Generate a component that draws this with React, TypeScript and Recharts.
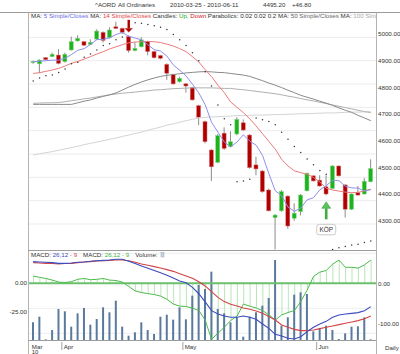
import React from "react";
import { ComposedChart, Bar, Line, XAxis, YAxis, CartesianGrid, ReferenceLine, ReferenceDot } from "recharts";

const FONT = '"Liberation Sans", Arial, sans-serif';

const dates = [
  "2010-03-25", "2010-03-26", "2010-03-29", "2010-03-30", "2010-03-31",
  "2010-04-01", "2010-04-06", "2010-04-07", "2010-04-08", "2010-04-09",
  "2010-04-12", "2010-04-13", "2010-04-14", "2010-04-15", "2010-04-16",
  "2010-04-19", "2010-04-20", "2010-04-21", "2010-04-22", "2010-04-23",
  "2010-04-27", "2010-04-28", "2010-04-29", "2010-04-30",
  "2010-05-03", "2010-05-04", "2010-05-05", "2010-05-06", "2010-05-07",
  "2010-05-10", "2010-05-11", "2010-05-12", "2010-05-13", "2010-05-14",
  "2010-05-17", "2010-05-18", "2010-05-19", "2010-05-20", "2010-05-21",
  "2010-05-24", "2010-05-25", "2010-05-26", "2010-05-27", "2010-05-28", "2010-05-31",
  "2010-06-01", "2010-06-02", "2010-06-03", "2010-06-04",
  "2010-06-07", "2010-06-08", "2010-06-09", "2010-06-10", "2010-06-11",
];

const opens = [4893, 4888, 4911, 4915, 4921, 4896, 4940, 4974, 4971, 4961, 4981, 5006, 4986, 5027, 5021, 4990, 4938, 4952, 4971, 4934, 4919, 4886, 4849, 4821, 4813, 4799, 4731, 4671, 4565, 4519, 4628, 4578, 4625, 4667, 4621, 4509, 4486, 4415, 4311, 4337, 4392, 4309, 4334, 4412, 4468, 4452, 4427, 4421, 4505, 4434, 4343, 4405, 4400, 4446];
const highs = [4900, 4905, 4913, 4930, 4943, 4930, 4990, 4995, 4974, 4980, 5018, 5010, 5025, 5046, 5024, 4995, 4969, 4988, 4975, 4937, 4922, 4890, 4851, 4840, 4816, 4802, 4735, 4675, 4568, 4625, 4650, 4635, 4688, 4680, 4625, 4540, 4490, 4420, 4325, 4415, 4395, 4365, 4400, 4480, 4470, 4470, 4470, 4508, 4507, 4436, 4402, 4430, 4460, 4530];
const lows = [4888, 4853, 4902, 4913, 4886, 4893, 4938, 4972, 4955, 4958, 4978, 4968, 4983, 5018, 5000, 4930, 4935, 4950, 4920, 4908, 4905, 4828, 4810, 4818, 4780, 4750, 4658, 4590, 4449, 4515, 4565, 4575, 4620, 4636, 4495, 4470, 4405, 4335, 4192, 4333, 4270, 4300, 4320, 4410, 4447, 4428, 4395, 4418, 4466, 4312, 4340, 4394, 4398, 4444];
const closes = [4897, 4902, 4904, 4924, 4890, 4924, 4971, 4984, 4958, 4969, 5011, 4976, 5015, 5021, 5006, 4938, 4946, 4978, 4934, 4911, 4909, 4853, 4813, 4834, 4805, 4753, 4688, 4596, 4502, 4619, 4571, 4596, 4680, 4640, 4499, 4494, 4409, 4337, 4321, 4409, 4280, 4328, 4396, 4478, 4449, 4430, 4400, 4505, 4468, 4343, 4400, 4396, 4448, 4495.2];

const ma5 = [4896, 4898, 4900, 4902, 4902, 4909, 4923, 4939, 4945, 4961, 4979, 4980, 4986, 4998, 5006, 4991, 4985, 4978, 4960, 4941, 4936, 4917, 4884, 4864, 4843, 4812, 4779, 4735, 4669, 4632, 4595, 4577, 4595, 4622, 4598, 4583, 4545, 4476, 4412, 4394, 4351, 4335, 4347, 4378, 4386, 4416, 4431, 4452, 4450, 4429, 4423, 4422, 4411, 4416];
const ma14 = [4852, 4855, 4860, 4865, 4871, 4880, 4890, 4897, 4906, 4915, 4925, 4934, 4944, 4952, 4960, 4967, 4970, 4971, 4972, 4971, 4968, 4962, 4955, 4945, 4934, 4915, 4895, 4866, 4840, 4808, 4780, 4745, 4725, 4705, 4682, 4655, 4626, 4597, 4568, 4530, 4505, 4487, 4480, 4474, 4462, 4445, 4422, 4415, 4411, 4407, 4405, 4406, 4412, 4418];
const ma50 = [4736, 4736, 4736, 4736, 4736, 4736, 4736, 4742, 4748, 4753, 4760, 4766, 4772, 4779, 4790, 4801, 4811, 4820, 4828, 4835, 4841, 4845, 4848, 4851, 4854, 4856, 4858, 4859, 4858, 4856, 4855, 4852, 4849, 4846, 4841, 4833, 4825, 4816, 4808, 4799, 4789, 4780, 4770, 4763, 4756, 4748, 4741, 4732, 4723, 4714, 4706, 4695, 4685, 4675];
const ma100 = [4740, 4741, 4742, 4742, 4743, 4746, 4750, 4753, 4757, 4760, 4764, 4768, 4772, 4775, 4778, 4780, 4782, 4785, 4787, 4790, 4791, 4793, 4795, 4796, 4797, 4798, 4798, 4798, 4798, 4797, 4796, 4796, 4793, 4791, 4788, 4785, 4782, 4779, 4776, 4772, 4767, 4763, 4758, 4753, 4749, 4744, 4739, 4734, 4729, 4724, 4719, 4714, 4709, 4705];
const ma200 = [4546, 4551, 4555, 4559, 4564, 4569, 4574, 4579, 4585, 4590, 4595, 4600, 4605, 4610, 4616, 4621, 4627, 4632, 4639, 4645, 4651, 4658, 4663, 4669, 4675, 4680, 4685, 4687, 4689, 4690, 4691, 4692, 4694, 4694, 4695, 4696, 4696, 4697, 4698, 4698, 4699, 4700, 4701, 4701, 4702, 4703, 4704, 4704, 4705, 4706, 4707, 4707, 4708, 4709];
const sar = [4824, 4835, 4843, 4846, 4856, 4869, 4888, 4894, 4913, 4925, 4940, 4957, 4963, 4978, 4989, 5046, 5042, 5040, 5036, 5031, 5025, 5017, 4998, 4978, 4957, 4930, 4900, 4858, 4805, 4734, 4682, 4660, 4446, 4449, 4455, 4685, 4678, 4672, 4660, 4632, 4605, 4578, 4556, 4531, 4510, 4488, 4474, 4192, 4198, 4203, 4209, 4212, 4218, 4224];

const volumes = [530, 700, 20, 300, 930, 860, 400, 800, 960, 460, 630, 980, 830, 1180, 400, 130, 230, 530, 300, 180, 700, 760, 610, 980, 620, 1330, 1650, 1530, 2050, 930, 800, 530, 680, 100, 700, 830, 1030, 1260, 2400, 430, 680, 1360, 1430, 1380, 260, 360, 430, 300, 30, 200, 400, 410, 680, 20];
const macdLine = [18.7, 18.4, 18.1, 17.8, 17.2, 17.2, 17.5, 18.1, 18.4, 19.0, 19.5, 19.8, 20.1, 20.7, 20.7, 19.0, 17.0, 15.0, 13.0, 11.0, 9.0, 7.0, 4.5, 2.0, 0.5, -3.5, -9.0, -16.0, -23.6, -26.4, -28.2, -29.3, -29.3, -28.2, -29.3, -31.0, -35.1, -38.8, -44.0, -45.4, -47.4, -48.0, -46.0, -41.7, -37.9, -35.1, -32.8, -29.3, -27.3, -26.4, -25.9, -25.3, -23.6, -20.1];
const signalLine = [17.8, 17.5, 17.2, 17.0, 16.7, 17.0, 17.2, 17.8, 18.4, 18.7, 19.3, 19.5, 19.8, 20.1, 20.1, 19.5, 18.1, 16.7, 15.5, 14.4, 13.2, 11.8, 10.3, 8.3, 6.3, 4.3, 1.4, -2.3, -7.2, -12.1, -15.8, -18.1, -19.5, -21.3, -22.4, -23.9, -25.9, -28.7, -31.6, -35.9, -37.9, -39.7, -40.8, -40.8, -40.2, -39.1, -37.9, -36.8, -35.6, -34.5, -33.3, -32.2, -30.5, -28.2];
const histogram = [18, 15, 12, 8, 3, 2, 4, 10, 12, 9, 10, 12, 8, 7, 3, -8, -19, -23, -26, -28, -32, -40, -52, -57, -58, -62, -68, -92, -140, -125, -110, -93, -82, -52, -57, -62, -68, -79, -92, -79, -73, -68, -46, -17, 17, 28, 32, 48, 58, 40, 40, 38, 46, 58];

const priceTicks = [4250, 4300, 4350, 4400, 4450, 4500, 4550, 4600, 4650, 4700, 4750, 4800, 4850, 4900, 4950, 5000];
const macdLeftTicks = [0, -25];
const macdRightTicks = [50, 0, -50, -100];
const monthTicks = ["2010-03-25", "2010-04-01", "2010-05-03", "2010-06-01"];
const monthNames = ["Mar", "Apr", "May", "Jun"];
const sellDates = ["2010-04-19"];
const buyDates = ["2010-06-02"];

const rows = dates.map((d, i) => ({
  d,
  o: opens[i], h: highs[i], l: lows[i], c: closes[i],
  ma5: ma5[i], ma14: ma14[i], ma50: ma50[i], ma100: ma100[i], ma200: ma200[i],
  sar: sar[i],
  v: volumes[i], macd: macdLine[i], sig: signalLine[i], hist: histogram[i],
}));

const priceGrid = Array.from({ length: 71 }, (_, k) => 4200 + k * 12.5);
const macdGrid = Array.from({ length: 18 }, (_, k) => -137.5 + k * 12.5);

const HALF_BAND = 3.19;
const MAIN_PLOT_H = 237;

const Candle = (props: any) => {
  const { x, y, width, height, payload } = props;
  const { o, h, l, c } = payload;
  const up = c >= o;
  const k = height / ((h - l) || 1);
  const yo = y + (h - o) * k;
  const yc = y + (h - c) * k;
  const top = Math.min(yo, yc);
  const bh = Math.max(Math.abs(yo - yc), 1);
  const cx = x + width / 2;
  return (
    <g>
      <line x1={cx} x2={cx} y1={y} y2={y + height} stroke="#8c8c8c" strokeWidth={1} />
      <rect x={cx - 2} y={top} width={4} height={bh}
        fill={up ? "#1fb21f" : "#b00000"} stroke={up ? "#7fd77f" : "#d77070"} strokeWidth={0.5} />
    </g>
  );
};

const SellArrow = (props: any) => {
  const { cx, cy } = props;
  return (
    <g>
      <rect x={cx - 1.2} y={cy - 15.5} width={2.4} height={9} fill="#b00000" />
      <polygon points={`${cx - 3.8},${cy - 7} ${cx + 3.8},${cy - 7} ${cx},${cy - 3}`} fill="#b00000" stroke="#d06060" strokeWidth={0.5} />
    </g>
  );
};

const BuyArrow = (props: any) => {
  const { cx, cy } = props;
  return (
    <g>
      <polygon points={`${cx},${cy + 6.5} ${cx - 4.5},${cy + 13} ${cx + 4.5},${cy + 13}`} fill="#5cc45c" stroke="#2f9a2f" strokeWidth={0.5} />
      <rect x={cx - 1.3} y={cy + 13} width={2.6} height={11} fill="#3fae3f" />
      <rect x={cx - 9.5} y={cy + 29} width={19} height={10.5} rx={2.5} fill="#ffffff" stroke="#bdbdbd" strokeWidth={0.8} />
      <text x={cx} y={cy + 36.6} textAnchor="middle" fontSize={6.4} fill="#333" fontFamily={FONT}>KÖP</text>
    </g>
  );
};

const PriceTick = (props: any) => {
  const { x, y, payload } = props;
  return (
    <text x={x} y={y + 2.2} fontSize={6.2} fill="#333" fontFamily={FONT}>
      {Number(payload.value).toFixed(2)}
    </text>
  );
};

const LeftTick = (props: any) => {
  const { x, y, payload } = props;
  return (
    <text x={x} y={y + 2.2} fontSize={6.2} fill="#333" textAnchor="end" fontFamily={FONT}>
      {Number(payload.value).toFixed(2)}
    </text>
  );
};

const MonthGrid = (props: any) => {
  const { x, y } = props;
  const lx = x - HALF_BAND;
  return <line x1={lx} x2={lx} y1={y - MAIN_PLOT_H} y2={y} stroke="#e4e4e4" strokeWidth={1} />;
};

const MonthTick = (props: any) => {
  const { x, y, payload } = props;
  const i = monthTicks.indexOf(payload.value);
  const lx = x - HALF_BAND;
  return (
    <g>
      {i > 0 && <line x1={lx} x2={lx} y1={y} y2={y + 8} stroke="#a0a0a0" strokeWidth={1} />}
      <text x={lx + 1.8} y={y + 6.6} fontSize={6.2} fill="#333" fontFamily={FONT}>{monthNames[i]}</text>
      {i === 0 && <text x={lx + 1.8} y={y + 12.2} fontSize={6} fill="#333" fontFamily={FONT}>10</text>}
    </g>
  );
};

export default function App() {
  return (
    <div style={{ position: "absolute", left: 0, top: 0, width: 400, height: 354, background: "#fff", overflow: "hidden", fontFamily: FONT }}>
      <div style={{ position: "absolute", left: 0, top: 0 }}>
        <ComposedChart width={400} height={251} data={rows} margin={{ top: 13, right: 0, bottom: 1, left: 28 }}>
          <CartesianGrid vertical={false} horizontalValues={priceGrid} stroke="#ececec" />
          <XAxis dataKey="d" height={0} padding={{ left: 2, right: 2 }} axisLine={false} tickLine={false}
            tickSize={0} ticks={monthTicks.slice(1)} interval={0} tick={<MonthGrid />} />
          <YAxis orientation="right" width={24} domain={[4190, 5078.75]} allowDataOverflow
            ticks={priceTicks} axisLine={false} tickLine={false} tickSize={0} tickMargin={2} tick={<PriceTick />} />
          <Line dataKey="ma200" stroke="#d4d4d4" strokeWidth={1} dot={false} isAnimationActive={false} />
          <Line dataKey="ma100" stroke="#b0b0b0" strokeWidth={1} dot={false} isAnimationActive={false} />
          <Line dataKey="ma50" stroke="#8a8a8a" strokeWidth={1} dot={false} isAnimationActive={false} />
          <Line dataKey="ma14" stroke="#ec7b7b" strokeWidth={1} dot={false} isAnimationActive={false} />
          <Line dataKey="ma5" stroke="#8f8fec" strokeWidth={1} dot={false} isAnimationActive={false} />
          <Bar dataKey={(r: any) => [r.l, r.h]} barSize={4} shape={<Candle />} isAnimationActive={false} />
          <Line dataKey="sar" stroke="none" dot={{ r: 0.75, fill: "#333", stroke: "none" }} activeDot={false} isAnimationActive={false} />
          {sellDates.map((d) => (
            <ReferenceDot key={d} x={d} y={highs[dates.indexOf(d)]} r={0} shape={<SellArrow />} />
          ))}
          {buyDates.map((d) => (
            <ReferenceDot key={d} x={d} y={lows[dates.indexOf(d)]} r={0} shape={<BuyArrow />} />
          ))}
        </ComposedChart>
      </div>

      <div style={{ position: "absolute", left: 0, top: 251 }}>
        <ComposedChart width={400} height={103} data={rows} margin={{ top: 0, right: 0, bottom: 0, left: 0 }}>
          <CartesianGrid xAxisId="x" yAxisId="right" vertical={false} horizontalValues={macdGrid} stroke="#eeeeee" />
          <XAxis xAxisId="x" dataKey="d" height={14} padding={{ left: 2, right: 2 }} axisLine={false} tickLine={false}
            tickSize={0} ticks={monthTicks} interval={0} tick={<MonthTick />} />
          <XAxis xAxisId="x2" dataKey="d" hide padding={{ left: 2, right: 2 }} />
          <YAxis yAxisId="left" orientation="left" width={28} domain={[-48.88, 27.84]} allowDataOverflow
            ticks={macdLeftTicks} axisLine={false} tickLine={false} tickSize={0} tickMargin={1} tick={<LeftTick />} />
          <YAxis yAxisId="right" orientation="right" width={24} domain={[-141.75, 80.75]} allowDataOverflow
            ticks={macdRightTicks} axisLine={false} tickLine={false} tickSize={0} tickMargin={2} tick={<PriceTick />} />
          <YAxis yAxisId="vol" hide domain={[0, 2670]} allowDataOverflow />
          <Bar xAxisId="x" yAxisId="right" dataKey="hist" barSize={1} fill="#b9e5b9" isAnimationActive={false} />
          <Bar xAxisId="x2" yAxisId="vol" dataKey="v" barSize={2} fill="#5a7a9d" isAnimationActive={false} />
          <ReferenceLine xAxisId="x" yAxisId="right" y={0} stroke="#6cc06c" strokeWidth={2} />
          <Line xAxisId="x" yAxisId="right" dataKey="hist" stroke="#4cbb4c" strokeWidth={1} dot={false} isAnimationActive={false} />
          <Line xAxisId="x" yAxisId="left" dataKey="sig" stroke="#d04545" strokeWidth={1.1} dot={false} isAnimationActive={false} />
          <Line xAxisId="x" yAxisId="left" dataKey="macd" stroke="#3b4cc0" strokeWidth={1.1} dot={false} isAnimationActive={false} />
        </ComposedChart>
      </div>

      <svg width={400} height={354} style={{ position: "absolute", left: 0, top: 0, pointerEvents: "none" }} fontFamily={FONT}>
        <defs>
          <clipPath id="legendClip"><rect x={28} y={12} width={348} height={12} /></clipPath>
        </defs>
        <g fontSize={6.2} fill="#333">
          <text x={95} y={7.3}>^AORD</text>
          <text x={118} y={7.3}>All Ordinaries</text>
          <text x={170} y={7.3}>2010-03-25 - 2010-06-11</text>
          <text x={263} y={7.3}>4495.20</text>
          <text x={292} y={7.3}>+46.80</text>
        </g>
        <line x1={0} x2={400} y1={12.5} y2={12.5} stroke="#9c9c9c" />
        <line x1={28.5} x2={28.5} y1={12.5} y2={354} stroke="#b4b4b4" />
        <line x1={376.5} x2={376.5} y1={12.5} y2={354} stroke="#b4b4b4" />
        <line x1={28} x2={376} y1={250.5} y2={250.5} stroke="#9c9c9c" />
        <line x1={28} x2={376} y1={340.5} y2={340.5} stroke="#9c9c9c" />
        <text x={31} y={18.3} fontSize={6.2} fill="#333" clipPath="url(#legendClip)" xmlSpace="preserve">
          <tspan>MA: </tspan><tspan fill="#6a6ae6">5 Simple/Closes</tspan>
          <tspan> MA: </tspan><tspan fill="#e04545">14 Simple/Closes</tspan>
          <tspan> Candles: </tspan><tspan fill="#22aa22">Up,</tspan><tspan fill="#cc2222"> Down</tspan>
          <tspan> Parabolics: 0.02 0.02 0.2 MA: </tspan><tspan fill="#666">50 Simple/Closes</tspan>
          <tspan> MA: </tspan><tspan fill="#aaa">100 Simple/Closes</tspan>
        </text>
        <text x={31} y={257} fontSize={6.2} fill="#333" xmlSpace="preserve">
          <tspan>MACD: </tspan><tspan fill="#3b4cc0">26,12</tspan><tspan fill="#d04545"> - 9</tspan>
          <tspan dx={6}>MACD: </tspan><tspan fill="#3fae3f">26,12 - 9</tspan>
          <tspan dx={6}>Volume:</tspan>
        </text>
        <rect x={161} y={252.5} width={3} height={4.5} fill="#c9d2de" stroke="#9aa6b8" strokeWidth={0.5} />
        <text x={385} y={349.5} fontSize={6.2} fill="#333">Daily</text>
      </svg>
    </div>
  );
}
